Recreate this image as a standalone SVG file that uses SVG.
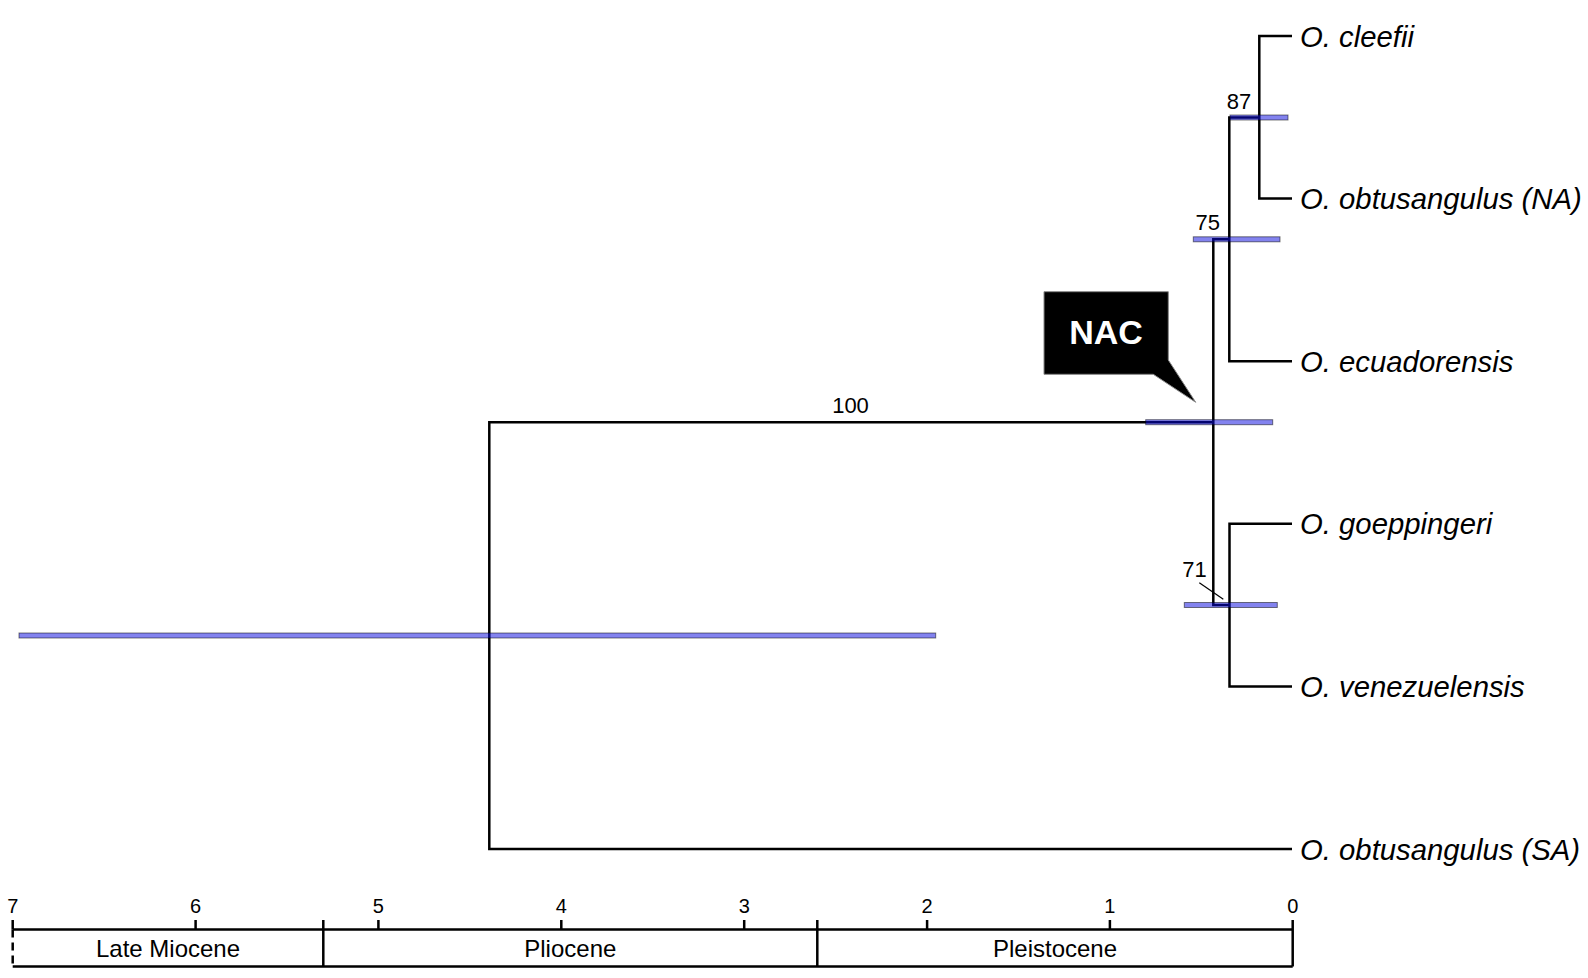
<svg xmlns="http://www.w3.org/2000/svg" width="1588" height="978" viewBox="0 0 1588 978">
<style>
.br{fill:none;stroke:#000;stroke-width:2.5;stroke-linejoin:miter;stroke-linecap:butt}
.hpd{fill:#0808e0;fill-opacity:0.5;stroke:#000;stroke-opacity:0.5;stroke-width:1}
.tx{font-family:"Liberation Sans",Arial,sans-serif;font-style:italic;font-size:29.3px;fill:#000}
.sup{font-family:"Liberation Sans",Arial,sans-serif;font-size:22px;fill:#000}
.ax{fill:none;stroke:#000;stroke-width:2.5}
.tick{font-family:"Liberation Sans",Arial,sans-serif;font-size:20px;fill:#000;text-anchor:middle}
.per{font-family:"Liberation Sans",Arial,sans-serif;font-size:24px;fill:#000;text-anchor:middle}
</style>
<rect width="1588" height="978" fill="#fff"/>
<g id="connectors">
<path class="br" d="M1213.3,422.2 H489.3 V849 H1292"/>
<path class="br" d="M1229.3,239.3 H1213.3 V605 H1229.5"/>
<path class="br" d="M1259.3,117.5 H1229.3 V361.2 H1292"/>
<path class="br" d="M1292,36 H1259.3 V198.6 H1292"/>
<path class="br" d="M1292,523.8 H1229.5 V686.4 H1292"/>
</g>
<g id="node-root">
<rect class="hpd" x="19" y="633" width="916.7" height="5"/>
</g>
<g id="node-nac">
<rect class="hpd" x="1145.7" y="419.7" width="127" height="5"/>
<text class="sup" x="850.5" y="412.7" text-anchor="middle">100</text>
</g>
<g id="node-75">
<rect class="hpd" x="1193.3" y="236.8" width="86.7" height="5"/>
<text class="sup" x="1207.8" y="230" text-anchor="middle">75</text>
</g>
<g id="node-87">
<rect class="hpd" x="1230" y="115" width="58" height="5"/>
<text class="sup" x="1239" y="109.3" text-anchor="middle">87</text>
</g>
<g id="node-71">
<rect class="hpd" x="1184.3" y="602.5" width="93" height="5"/>
<text class="sup" x="1194.5" y="576.7" text-anchor="middle">71</text>
<line x1="1199.3" y1="582.7" x2="1223.3" y2="599.3" stroke="#000" stroke-width="1.2"/>
</g>
<g id="callout-nac">
<polygon points="1044,291.7 1168.3,291.7 1168.3,360 1195.7,402.3 1153.3,374.3 1044,374.3" fill="#000" stroke="#888" stroke-width="1"/>
<text x="1106" y="344.3" text-anchor="middle" font-family="'Liberation Sans',Arial,sans-serif" font-weight="bold" font-size="34" fill="#fff">NAC</text>
</g>
<g id="tip-cleefii"><text class="tx" x="1300" y="46.5">O. cleefii</text></g>
<g id="tip-obtusangulus-na"><text class="tx" x="1300" y="209.1">O. obtusangulus (NA)</text></g>
<g id="tip-ecuadorensis"><text class="tx" x="1300" y="371.7">O. ecuadorensis</text></g>
<g id="tip-goeppingeri"><text class="tx" x="1300" y="534.3">O. goeppingeri</text></g>
<g id="tip-venezuelensis"><text class="tx" x="1300" y="696.9">O. venezuelensis</text></g>
<g id="tip-obtusangulus-sa"><text class="tx" x="1300" y="859.5">O. obtusangulus (SA)</text></g>
<g id="time-axis">
<path class="ax" d="M12.7,929.5 H1292.7 M12.7,966.5 H1292.7 M12.7,920 V929.5 M1292.7,920 V966.5 M323.3,920 V966.5 M817.3,920 V966.5 M195.6,920 V929.5 M378.4,920 V929.5 M561.3,920 V929.5 M744.2,920 V929.5 M927.1,920 V929.5 M1109.9,920 V929.5"/>
<path class="ax" d="M12.7,929.5 V966.5" stroke-dasharray="8,5"/>
<text class="tick" x="12.7" y="913">7</text>
<text class="tick" x="195.6" y="913">6</text>
<text class="tick" x="378.4" y="913">5</text>
<text class="tick" x="561.3" y="913">4</text>
<text class="tick" x="744.2" y="913">3</text>
<text class="tick" x="927.1" y="913">2</text>
<text class="tick" x="1109.9" y="913">1</text>
<text class="tick" x="1292.7" y="913">0</text>
<text class="per" x="168" y="957.3">Late Miocene</text>
<text class="per" x="570.3" y="957.3">Pliocene</text>
<text class="per" x="1055" y="957.3">Pleistocene</text>
</g>
</svg>
